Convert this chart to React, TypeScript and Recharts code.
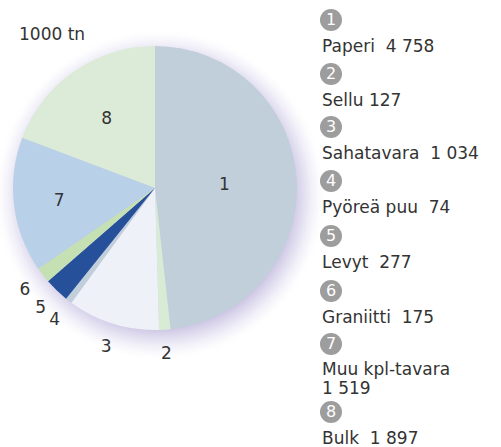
import React from "react";
import { PieChart, Pie, Cell, Legend } from "recharts";

const categories = ["Paperi", "Sellu", "Sahatavara", "Pyöreä puu", "Levyt", "Graniitti", "Muu kpl-tavara", "Bulk"];
const values = [4758, 127, 1034, 74, 277, 175, 1519, 1897];
const valueLabels = ["4 758", "127", "1 034", "74", "277", "175", "1 519", "1 897"];
const sliceNumbers = ["1", "2", "3", "4", "5", "6", "7", "8"];
const colors = ["#c1cfdb", "#d8ebd5", "#eef1f8", "#c1cfdb", "#27509b", "#c5e1b3", "#b8d0e8", "#dbebd8"];
const unitLabel = "1000 tn";

const data = categories.map((name, i) => ({ name, value: values[i] }));
const FONT = "'DejaVu Sans', sans-serif";
const RAD = Math.PI / 180;

const renderLabel = (props: any) => {
  const { cx, cy, midAngle, outerRadius, index } = props;
  let r: number;
  if (index === 0) r = outerRadius * 0.49;
  else if (index === 6) r = outerRadius * 0.68;
  else if (index === 7) r = outerRadius * 0.6;
  else r = outerRadius + 23;
  const x = cx + r * Math.cos(-midAngle * RAD);
  const y = cy + r * Math.sin(-midAngle * RAD);
  return (
    <text key={index} x={x} y={y} textAnchor="middle" dominantBaseline="central" fontSize={17} fill="#333" fontFamily={FONT}>
      {sliceNumbers[index]}
    </text>
  );
};

const lineHeights = [0, 54, 107, 161, 216, 271, 324, 392];
const gaps = ["\u00a0\u00a0", "\u00a0", "\u00a0\u00a0", "\u00a0\u00a0", "\u00a0\u00a0", "\u00a0\u00a0", "", "\u00a0\u00a0"];

const LegendContent = () => (
  <div style={{ position: "relative", width: 501, height: 447, fontFamily: FONT, color: "#333" }}>
    <div style={{ position: "absolute", left: 19, top: 24, fontSize: 17, lineHeight: "20px" }}>{unitLabel}</div>
    {categories.map((c, i) => (
      <div key={c} style={{ position: "absolute", left: 320, top: 9 + lineHeights[i], width: 180 }}>
        <div style={{ width: 22, height: 22, borderRadius: 11, background: "#9d9d9d", color: "#fff", fontSize: 16, lineHeight: "22px", textAlign: "center" }}>
          {sliceNumbers[i]}
        </div>
        {i === 6 ? (
          <div style={{ marginLeft: 2, fontSize: 17, lineHeight: "19px", marginTop: 5, whiteSpace: "nowrap" }}>
            {c}
            <br />
            {valueLabels[i]}
          </div>
        ) : (
          <div style={{ marginLeft: 2, fontSize: 17, lineHeight: "17px", marginTop: 7, whiteSpace: "nowrap" }}>
            {c}
            {gaps[i]}
            {valueLabels[i]}
          </div>
        )}
      </div>
    ))}
  </div>
);

export default function App() {
  return (
    <div style={{ position: "absolute", left: 0, top: 0, width: 501, height: 447, background: "#fff" }}>
      <PieChart width={501} height={447} margin={{ top: 0, right: 0, bottom: 0, left: 0 }}>
        <defs>
          <radialGradient id="glow" cx="50%" cy="50%" r="50%">
            <stop offset="0%" stopColor="#c9c2e2" stopOpacity={1} />
            <stop offset="80%" stopColor="#cbc4e3" stopOpacity={1} />
            <stop offset="88%" stopColor="#d6d1ea" stopOpacity={0.6} />
            <stop offset="95%" stopColor="#e8e5f3" stopOpacity={0.25} />
            <stop offset="100%" stopColor="#ffffff" stopOpacity={0} />
          </radialGradient>
        </defs>
        <Pie
          data={[{ name: "glow", value: 1 }]}
          dataKey="value"
          cx={160}
          cy={195}
          outerRadius={166}
          startAngle={90}
          endAngle={-270}
          stroke="none"
          fill="url(#glow)"
          isAnimationActive={false}
          legendType="none"
        />
        <Pie
          data={data}
          dataKey="value"
          nameKey="name"
          cx={155}
          cy={188}
          outerRadius={142}
          startAngle={90}
          endAngle={-270}
          stroke="none"
          label={renderLabel}
          labelLine={false}
          isAnimationActive={false}
        >
          {data.map((d, i) => (
            <Cell key={d.name} fill={colors[i]} />
          ))}
        </Pie>
        <Legend
          content={() => <LegendContent />}
          wrapperStyle={{ position: "absolute", left: 0, top: 0, width: 501, height: 447, pointerEvents: "none" }}
        />
      </PieChart>
    </div>
  );
}
